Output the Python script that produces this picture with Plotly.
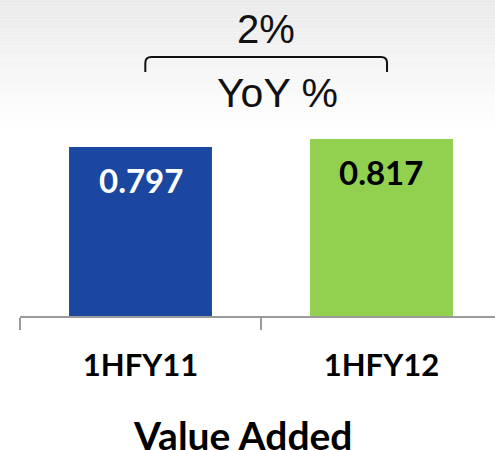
import plotly.graph_objects as go

categories = ["1HFY11", "1HFY12"]
values = [0.797, 0.817]
value_labels = ["0.797", "0.817"]
bar_colors = ["#1B47A0", "#92D050"]
label_colors = ["#FFFFFF", "#000000"]
yoy_text = "2%"
yoy_caption = "YoY %"
axis_title = "Value Added"

W, H = 495, 450
ML, MR, MT, MB = 20, 0, 0, 134
plot_h = H - MT - MB
y_min = 0.374
px_per_unit = 399.5
y_max = y_min + plot_h / px_per_unit

fig = go.Figure()
fig.add_trace(go.Bar(
    x=categories, y=values, marker=dict(color=bar_colors, line=dict(width=0)),
    width=0.593, hoverinfo="skip", showlegend=False,
))

# gradient background (top band)
shapes = []
n = 40
band = 130
for i in range(n):
    y0 = i * band / n
    y1 = (i + 1) * band / n
    t = i / (n - 1)
    g = int(round(234 + (255 - 234) * t))
    shapes.append(dict(
        type="rect", xref="paper", yref="paper",
        x0=-ML / (W - ML - MR), x1=1, y0=1 - y1 / plot_h, y1=1 - y0 / plot_h,
        fillcolor=f"rgb({g},{g},{g})", line=dict(width=0), layer="below",
    ))

# bracket over the two bars
bx0, bx1 = 0.02, 1.023
by_top = 1 - 57 / plot_h
by_bot = 1 - 72 / plot_h
r_x = 6 / 241
r_y = 6 / plot_h
path = (f"M {bx0},{by_bot} L {bx0},{by_top - r_y} Q {bx0},{by_top} {bx0 + r_x},{by_top} "
        f"L {bx1 - r_x},{by_top} Q {bx1},{by_top} {bx1},{by_top - r_y} L {bx1},{by_bot}")
shapes.append(dict(type="path", xref="x", yref="paper", path=path,
                   line=dict(color="#111111", width=2)))

annotations = []
for c, v, lab, col in zip(categories, values, value_labels, label_colors):
    annotations.append(dict(
        x=c, y=v, xref="x", yref="y", text=lab, showarrow=False,
        yanchor="middle", yshift=-33,
        font=dict(family="Lato", size=33, color=col, weight="bold"),
    ))

annotations.append(dict(
    x=0.517, y=1 - 29 / plot_h, xref="paper", yref="paper", text=yoy_text,
    showarrow=False, xanchor="center", yanchor="middle",
    font=dict(family="Liberation Sans", size=40, color="#111111"),
))
annotations.append(dict(
    x=0.543, y=1 - 93 / plot_h, xref="paper", yref="paper", text=yoy_caption,
    showarrow=False, xanchor="center", yanchor="middle",
    font=dict(family="Liberation Sans", size=41, color="#111111"),
))
annotations.append(dict(
    x=(243 - ML) / (W - ML - MR), y=-(435 - plot_h) / plot_h, xref="paper", yref="paper",
    text=axis_title, showarrow=False, xanchor="center", yanchor="middle",
    font=dict(family="Lato", size=39, color="#000000", weight="bold"),
))

fig.update_layout(
    width=W, height=H,
    margin=dict(l=ML, r=MR, t=MT, b=MB, pad=0),
    paper_bgcolor="white", plot_bgcolor="rgba(0,0,0,0)",
    shapes=shapes, annotations=annotations,
    xaxis=dict(
        type="category", range=[-0.5, 1.471], tickson="boundaries",
        ticks="outside", ticklen=12, tickwidth=1.5, tickcolor="#9a9a9a",
        showline=True, linecolor="#9a9a9a", linewidth=1.5,
        showgrid=False, zeroline=False, ticklabelstandoff=21,
        tickfont=dict(family="Lato", size=31, color="#000000", weight="bold"),
    ),
    yaxis=dict(visible=False, range=[y_min, y_max], showgrid=False, zeroline=False),
    bargap=0.4,
)

fig.write_html(
    "out.html",
    config={"displayModeBar": False, "staticPlot": True},
    post_script="document.body.style.margin='0';document.body.style.overflow='hidden';",
)
